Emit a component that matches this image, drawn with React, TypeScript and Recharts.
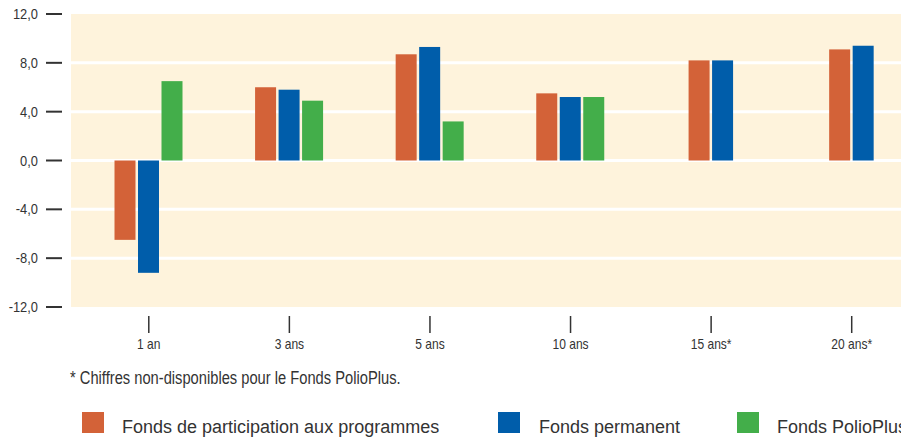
import React from 'react';
import { BarChart, Bar, XAxis, YAxis, CartesianGrid } from 'recharts';

const categories = ['1 an', '3 ans', '5 ans', '10 ans', '15 ans*', '20 ans*'];
const participation = [-6.5, 6.0, 8.7, 5.5, 8.2, 9.1];
const permanent = [-9.2, 5.8, 9.3, 5.2, 8.2, 9.4];
const polioPlus: (number | null)[] = [6.5, 4.9, 3.2, 5.2, null, null];
const yTicks = [-12, -8, -4, 0, 4, 8, 12];
const gridValues = [-8, -4, 0, 4, 8];
const seriesNames = ['Fonds de participation aux programmes', 'Fonds permanent', 'Fonds PolioPlus'];
const footnote = '* Chiffres non-disponibles pour le Fonds PolioPlus.';

const COLORS = ['#D36238', '#005DAA', '#43AE4A'];
const CREAM = '#FEF3DC';
const TEXT = '#333333';
const SANS = '"Liberation Sans", Arial, Helvetica, sans-serif';
const BAR_SIZE = 21;
const BAR_GAP = 2.5;

const data = categories.map((c, i) => ({
  cat: c,
  participation: participation[i],
  permanent: permanent[i],
  polioPlus: polioPlus[i],
}));

const fmt = (v: number) => v.toFixed(1).replace('.', ',');

const makeShape = (fill: string) => (props: any) => {
  const { x, y, width, height, payload } = props;
  if (x == null || y == null) return <g />;
  const shift = payload && payload.polioPlus == null ? (width + BAR_GAP) / 2 : 0;
  const top = Math.min(y, y + height);
  const h = Math.abs(height);
  return <rect x={x + shift} y={top} width={width} height={h} fill={fill} />;
};

const YTick = (props: any) => {
  const { x, y, payload } = props;
  return (
    <g>
      <line x1={x - 25} x2={x - 9} y1={y} y2={y} stroke={TEXT} strokeWidth={2} />
      <text
        transform={`translate(${x - 33},${y}) scale(0.92,1)`}
        dy="0.36em"
        textAnchor="end"
        fill={TEXT}
        fontSize={14}
        fontFamily={SANS}
      >
        {fmt(payload.value)}
      </text>
    </g>
  );
};

const XTick = (props: any) => {
  const { x, y, payload } = props;
  return (
    <g>
      <line x1={x} x2={x} y1={y + 9} y2={y + 26} stroke={TEXT} strokeWidth={1.5} />
      <text
        transform={`translate(${x},${y + 42}) scale(0.86,1)`}
        textAnchor="middle"
        fill={TEXT}
        fontSize={14}
        fontFamily={SANS}
      >
        {payload.value}
      </text>
    </g>
  );
};

const legendLayout = [
  { sx: 82, tx: 122 },
  { sx: 498, tx: 539 },
  { sx: 737, tx: 777 },
];

export default function App() {
  return (
    <div style={{ position: 'absolute', left: 0, top: 0, width: 901, height: 438, overflow: 'hidden', background: '#fff' }}>
      <BarChart
        width={922}
        height={438}
        data={data}
        margin={{ top: 14, right: 0, bottom: 71, left: 0 }}
        barSize={BAR_SIZE}
        barGap={BAR_GAP}
      >
        <CartesianGrid
          fill={CREAM}
          fillOpacity={1}
          stroke="#FFFFFF"
          strokeWidth={3}
          vertical={false}
          horizontalValues={gridValues}
        />
        <XAxis
          dataKey="cat"
          axisLine={false}
          tickLine={false}
          tickSize={0}
          tickMargin={0}
          height={60}
          padding={{ left: 7.5, right: 0 }}
          tick={<XTick />}
          interval={0}
        />
        <YAxis
          domain={[-12, 12]}
          ticks={yTicks}
          width={71}
          axisLine={false}
          tickLine={false}
          tickSize={0}
          tickMargin={0}
          tick={<YTick />}
          interval={0}
          allowDataOverflow
        />
        <Bar dataKey="participation" fill={COLORS[0]} isAnimationActive={false} shape={makeShape(COLORS[0])} />
        <Bar dataKey="permanent" fill={COLORS[1]} isAnimationActive={false} shape={makeShape(COLORS[1])} />
        <Bar dataKey="polioPlus" fill={COLORS[2]} isAnimationActive={false} shape={makeShape(COLORS[2])} />
      </BarChart>
      <svg width={901} height={438} style={{ position: 'absolute', left: 0, top: 0, pointerEvents: 'none' }}>
        <text transform="translate(70,384) scale(0.84,1)" fill={TEXT} fontSize={17.5} fontFamily={SANS}>
          {footnote}
        </text>
        {seriesNames.map((name, i) => (
          <g key={name}>
            <rect x={legendLayout[i].sx} y={412} width={22} height={21} fill={COLORS[i]} />
            <text x={legendLayout[i].tx} y={433} fill={TEXT} fontSize={18} fontFamily={SANS}>
              {name}
            </text>
          </g>
        ))}
      </svg>
    </div>
  );
}
